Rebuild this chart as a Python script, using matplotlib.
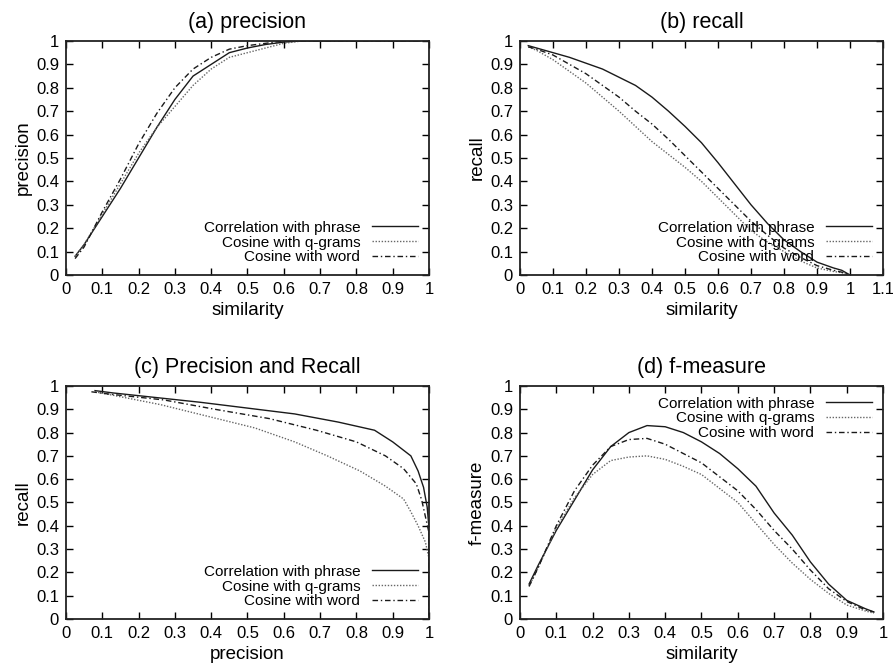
import numpy as np
import matplotlib.pyplot as plt
from matplotlib.ticker import MultipleLocator, FormatStrFormatter

plt.rcParams['font.family'] = ['Liberation Sans', 'DejaVu Sans']

# similarity thresholds
sim = [0.025, 0.05, 0.10, 0.15, 0.20, 0.25, 0.30, 0.35, 0.40, 0.45, 0.50,
       0.55, 0.60, 0.65, 0.70, 0.75, 0.80, 0.85, 0.90, 0.95, 0.975]
sim_recall = sim + [1.0]

# (a) precision
prec_phrase = [0.08, 0.13, 0.25, 0.37, 0.50, 0.63, 0.75, 0.85, 0.90, 0.95, 0.97,
               0.985, 0.995, 1.0, 1.0, 1.0, 1.0, 1.0, 1.0, 1.0, 1.0]
prec_qgram = [0.08, 0.13, 0.26, 0.39, 0.52, 0.63, 0.72, 0.81, 0.88, 0.93, 0.95,
              0.97, 0.99, 1.0, 1.0, 1.0, 1.0, 1.0, 1.0, 1.0, 1.0]
prec_word = [0.07, 0.12, 0.27, 0.41, 0.56, 0.69, 0.80, 0.88, 0.93, 0.965, 0.98,
             0.99, 1.0, 1.0, 1.0, 1.0, 1.0, 1.0, 1.0, 1.0, 1.0]

# (b) recall
rec_phrase = [0.98, 0.97, 0.95, 0.93, 0.905, 0.88, 0.845, 0.81, 0.76, 0.70, 0.635,
              0.565, 0.48, 0.39, 0.30, 0.22, 0.15, 0.10, 0.055, 0.03, 0.02, 0.0]
rec_qgram = [0.975, 0.96, 0.92, 0.87, 0.82, 0.76, 0.70, 0.635, 0.57, 0.515, 0.46,
             0.40, 0.33, 0.26, 0.19, 0.14, 0.10, 0.06, 0.03, 0.015, 0.01, 0.0]
rec_word = [0.975, 0.965, 0.94, 0.90, 0.86, 0.81, 0.76, 0.70, 0.645, 0.58, 0.51,
            0.44, 0.37, 0.30, 0.23, 0.17, 0.115, 0.075, 0.04, 0.02, 0.012, 0.0]

# (d) f-measure
f_phrase = [0.15, 0.23, 0.38, 0.51, 0.64, 0.74, 0.80, 0.83, 0.825, 0.80, 0.76,
            0.71, 0.645, 0.57, 0.455, 0.36, 0.245, 0.15, 0.08, 0.045, 0.03]
f_qgram = [0.14, 0.22, 0.39, 0.52, 0.62, 0.68, 0.695, 0.70, 0.685, 0.655, 0.62,
           0.56, 0.50, 0.41, 0.32, 0.24, 0.17, 0.11, 0.06, 0.035, 0.025]
f_word = [0.14, 0.22, 0.40, 0.55, 0.66, 0.74, 0.77, 0.775, 0.75, 0.71, 0.67,
          0.61, 0.55, 0.47, 0.38, 0.30, 0.21, 0.13, 0.075, 0.04, 0.03]

labels = ['Correlation with phrase', 'Cosine with q-grams', 'Cosine with word']
styles = [dict(color='#1a1a1a', linestyle='-', linewidth=1.0),
          dict(color='#666666', linestyle=(0, (1, 1.2)), linewidth=1.0),
          dict(color='#1a1a1a', linestyle=(0, (4, 2, 1, 2)), linewidth=1.0)]

fig = plt.figure(figsize=(8.93, 6.65), dpi=100)
ax_a = fig.add_axes([0.0739, 0.5865, 0.4065, 0.3519])
ax_b = fig.add_axes([0.5823, 0.5865, 0.4065, 0.3519])
ax_c = fig.add_axes([0.0739, 0.0692, 0.4065, 0.3504])
ax_d = fig.add_axes([0.5823, 0.0692, 0.4065, 0.3504])


def style_axes(ax, title, xlabel, ylabel, xmax=1.0):
    ax.set_xlim(0, xmax)
    ax.set_ylim(0, 1)
    ax.xaxis.set_major_locator(MultipleLocator(0.1))
    ax.yaxis.set_major_locator(MultipleLocator(0.1))
    ax.xaxis.set_major_formatter(FormatStrFormatter('%g'))
    ax.yaxis.set_major_formatter(FormatStrFormatter('%g'))
    ax.tick_params(direction='in', top=True, right=True, length=5, width=1.0,
                   labelsize=12, pad=5)
    for s in ax.spines.values():
        s.set_linewidth(1.3)
        s.set_color('#222222')
    ax.set_title(title, fontsize=15.5, pad=9)
    ax.set_xlabel(xlabel, fontsize=13.5, labelpad=4)
    ax.set_ylabel(ylabel, fontsize=13.5, labelpad=3)


def add_legend(ax, loc):
    ax.legend(loc=loc, frameon=False, markerfirst=False, fontsize=11,
              handlelength=3.0, handletextpad=0.8, labelspacing=0.05,
              borderaxespad=0.3)


for y, lab, st in zip([prec_phrase, prec_qgram, prec_word], labels, styles):
    ax_a.plot(sim, y, label=lab, **st)
style_axes(ax_a, '(a) precision', 'similarity', 'precision')
add_legend(ax_a, 'lower right')

for y, lab, st in zip([rec_phrase, rec_qgram, rec_word], labels, styles):
    ax_b.plot(sim_recall, y, label=lab, **st)
style_axes(ax_b, '(b) recall', 'similarity', 'recall', xmax=1.1)
add_legend(ax_b, 'lower right')

for p, r, lab, st in zip([prec_phrase, prec_qgram, prec_word],
                         [rec_phrase, rec_qgram, rec_word], labels, styles):
    ax_c.plot(p, r[:len(p)], label=lab, **st)
style_axes(ax_c, '(c) Precision and Recall', 'precision', 'recall')
add_legend(ax_c, 'lower right')

for y, lab, st in zip([f_phrase, f_qgram, f_word], labels, styles):
    ax_d.plot(sim, y, label=lab, **st)
style_axes(ax_d, '(d) f-measure', 'similarity', 'f-measure')
add_legend(ax_d, 'upper right')

fig.savefig('out.png', dpi=100)
